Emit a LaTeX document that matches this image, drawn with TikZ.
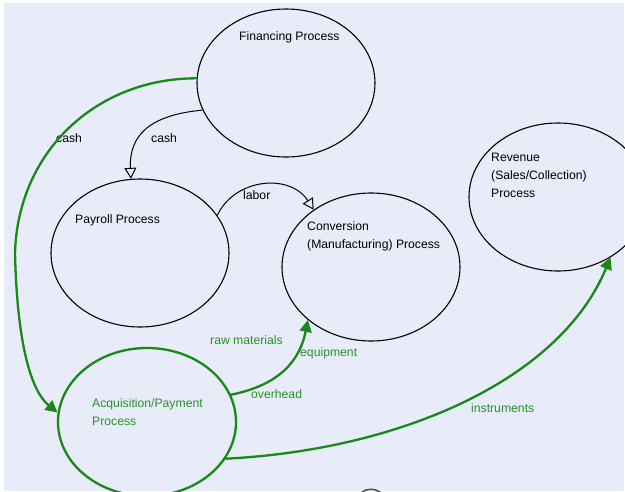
\documentclass[tikz,border=0pt]{standalone}
\usepackage{fontspec}
\setmainfont{Liberation Sans}
\usepackage{tikz}
\usetikzlibrary{shapes.geometric,arrows.meta}
\definecolor{flowgreen}{RGB}{25,135,25}
\definecolor{labelgreen}{RGB}{40,145,40}
\definecolor{paper}{RGB}{232,236,248}

\begin{document}
\begin{tikzpicture}[x=1pt,y=-1pt,
		proc/.style={ellipse,draw,line width=1.1pt,minimum width=178pt,minimum height=148pt,inner sep=0pt},
		txt/.style={anchor=west,inner sep=0pt,font=\fontsize{12.2}{18}\selectfont,align=left},
		blackflow/.style={line width=1pt,-{Triangle[open,length=11pt,width=12pt]}},
		greenflow/.style={flowgreen,line width=2.3pt,-{Triangle[length=12pt,width=12pt]}}]
		\useasboundingbox (0,0) rectangle (625,491);
		\clip (0,0) rectangle (625,491);
		\fill[white] (0,0) rectangle (625,491);
		\fill[paper] (4,3) rectangle (624,491);
		% processes
		\node[proc] (fin) at (286,83) {};
		\node[proc] (pay) at (140,253) {};
		\node[proc] (conv) at (371,267) {};
		\node[proc] (rev) at (558,197) {};
		\node[proc,flowgreen,line width=2.3pt] (acq) at (147,422) {};
		\node[txt] (finlbl) at (239,37) {Financing Process};
		\node[txt] (paylbl) at (75,220) {Payroll Process};
		\node[txt] (convlbl) at (307,236.5) {Conversion\\(Manufacturing) Process};
		\node[txt] (revlbl) at (491,175) {Revenue\\(Sales/Collection)\\Process};
		\node[txt,labelgreen] (acqlbl) at (92,412.5) {Acquisition/Payment\\Process};
		% flow labels
		\node[txt] (cashA) at (56,138) {cash};
		\node[txt] (cashB) at (151,138) {cash};
		\node[txt] (labor) at (243,195) {labor};
		\node[txt,labelgreen] (raw) at (210,340) {raw materials};
		\node[txt,labelgreen] (equip) at (300,353) {equipment};
		\node[txt,labelgreen] (over) at (251,394) {overhead};
		\node[txt,labelgreen] (instr) at (471,408) {instruments};
		% flows
		\coordinate (bend) at (15,253);
		\draw[greenflow] (fin.177) .. controls (98,78) and (18,150) .. (bend)
			.. controls (17,340) and (30,390) .. (acq.174);
		\draw[blackflow] (fin.198) .. controls (150,115) and (129,135) .. (pay.97);
		\draw[blackflow] (pay.26) .. controls (235,178) and (290,173) .. (conv.135);
		\draw[greenflow] (acq.18) .. controls (280,385) and (300,360) .. (conv.220);
		\draw[greenflow] (acq.-25) .. controls (400,450) and (560,380) .. (rev.-49);
		%\draw (bend) circle (2pt);
		\draw[gray!60!black,line width=1.5pt] (361,493) .. controls (366,488) and (375,488) .. (381,493);
	\end{tikzpicture}
\end{document}
